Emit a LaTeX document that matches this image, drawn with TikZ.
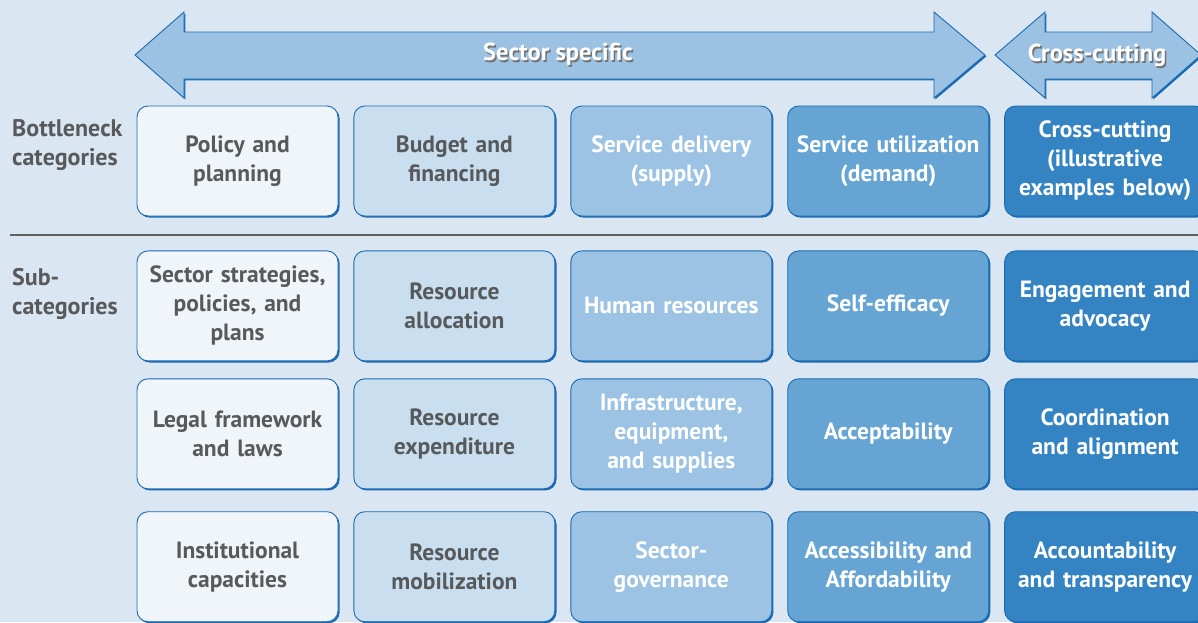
\documentclass[tikz,border=0pt]{standalone}
\usepackage{fontspec}
\setmainfont{PT Sans}
\usetikzlibrary{positioning,shadows}
\definecolor{sky}{HTML}{DAE7F3}
\definecolor{edge}{HTML}{1B6AB2}
\definecolor{band}{HTML}{9BC2E2}
\definecolor{tintA}{HTML}{F0F5FA}
\definecolor{tintB}{HTML}{C9DFF0}
\definecolor{tintC}{HTML}{9CC3E3}
\definecolor{tintD}{HTML}{66A5D3}
\definecolor{tintE}{HTML}{3484C4}
\definecolor{greytext}{HTML}{58595B}
\definecolor{rule}{HTML}{616161}
\tikzset{
  every node/.style={font=\bfseries\fontsize{23.5}{29}\selectfont},
  cell/.style={rounded corners=11pt,draw=edge,line width=0.9pt,minimum width=201pt,minimum height=110pt,
    text width=197pt,inner sep=2pt,align=center,
    drop shadow={shadow xshift=1.6pt,shadow yshift=-1.6pt,fill=edge,opacity=1}},
  lightcell/.style={cell,text=greytext},
  darkcell/.style={cell,text=white},
  banner/.style={fill=band,draw=edge,line width=0.9pt,line join=miter,
    drop shadow={shadow xshift=1.4pt,shadow yshift=-1.4pt,fill=edge,opacity=1}},
  bannertext/.style={text=white,font=\bfseries\fontsize{24.5}{29}\selectfont},
  bannershade/.style={bannertext,text=black!55},
  sidelabel/.style={text=greytext,align=left,anchor=west,inner sep=0pt,font=\bfseries\fontsize{24}{29}\selectfont}
}
\begin{document}
\begin{tikzpicture}[x=1pt,y=-1pt]
  \useasboundingbox (0,0) rectangle (1198,622);
  \fill[sky] (0,0) rectangle (1198,622);
  \clip (0,0) rectangle (1198,622);

  % double arrows on top
  \draw[banner] (135,55) -- (184,12) -- (184,32) -- (934,32) -- (934,12) -- (985,55)
    -- (934,98) -- (934,79) -- (184,79) -- (184,98) -- cycle;
  \draw[banner] (995,55) -- (1045,12) -- (1045,32) -- (1152,32) -- (1152,12) -- (1201,55)
    -- (1152,98) -- (1152,79) -- (1045,79) -- (1045,98) -- cycle;
  \node[bannershade] at (559.5,56) {Sector specific};
  \node[bannertext] (sector) at (558,54) {Sector specific};
  \node[bannershade] at (1098.5,57) {Cross-cutting};
  \node[bannertext] (crosscut) at (1097,55) {Cross-cutting};

  % row labels and separator
  \node[sidelabel] (bottleneck) at (12,145) {Bottleneck\\categories};
  \node[sidelabel] (subcat) at (12,294) {Sub-\\categories};
  \draw[rule,line width=2.4pt] (10,235) -- (1198,235);

  % bottleneck categories
  \node[lightcell,fill=tintA] (policy) at (237.5,161) {Policy and\\planning};
  \node[lightcell,fill=tintB,right=15pt of policy] (budget) {Budget and\\financing};
  \node[darkcell,fill=tintC,right=15pt of budget] (supply) {Service delivery\\(supply)};
  \node[darkcell,fill=tintD,right=15pt of supply] (demand) {Service utilization\\(demand)};
  \node[darkcell,fill=tintE,right=15pt of demand] (cross) {Cross-cutting\\(illustrative\\examples below)};

  % sub-categories, first row
  \node[lightcell,fill=tintA,below=34pt of policy] (strategies) {Sector strategies,\\policies, and\\plans};
  \node[lightcell,fill=tintB,below=34pt of budget] (allocation) {Resource\\allocation};
  \node[darkcell,fill=tintC,below=34pt of supply] (human) {Human resources};
  \node[darkcell,fill=tintD,below=34pt of demand] (efficacy) {Self-efficacy};
  \node[darkcell,fill=tintE,below=34pt of cross] (advocacy) {Engagement and\\advocacy};

  % second row
  \node[lightcell,fill=tintA,below=17pt of strategies] (legal) {Legal framework\\and laws};
  \node[lightcell,fill=tintB,below=17pt of allocation] (expenditure) {Resource\\expenditure};
  \node[darkcell,fill=tintC,below=17pt of human] (infra) {Infrastructure,\\equipment,\\and supplies};
  \node[darkcell,fill=tintD,below=17pt of efficacy] (accept) {Acceptability};
  \node[darkcell,fill=tintE,below=17pt of advocacy] (coord) {Coordination\\and alignment};

  % third row
  \node[lightcell,fill=tintA,below=22pt of legal] (capacity) {Institutional\\capacities};
  \node[lightcell,fill=tintB,below=22pt of expenditure] (mobil) {Resource\\mobilization};
  \node[darkcell,fill=tintC,below=22pt of infra] (govern) {Sector-\\governance};
  \node[darkcell,fill=tintD,below=22pt of accept] (access) {Accessibility and\\Affordability};
  \node[darkcell,fill=tintE,below=22pt of coord] (account) {Accountability\\and transparency};
\end{tikzpicture}
\end{document}
